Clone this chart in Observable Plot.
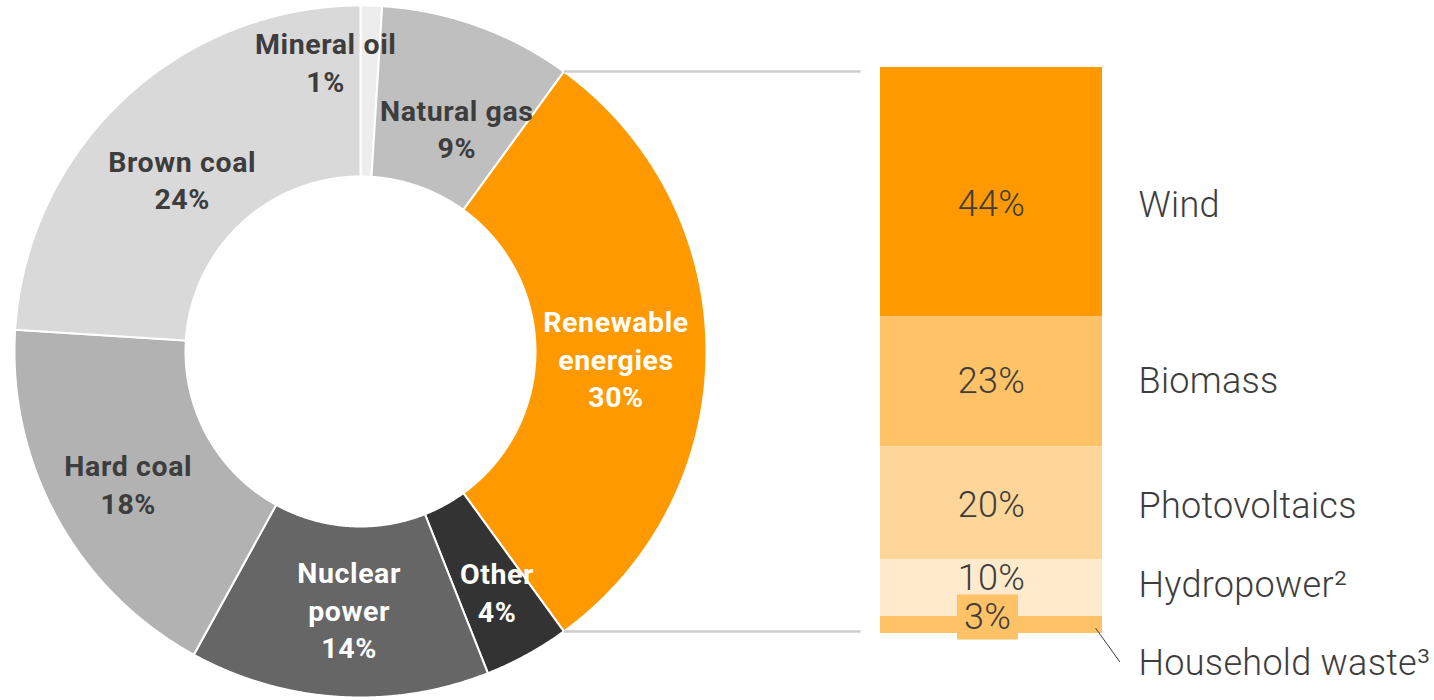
<!DOCTYPE html>
<html>
<head>
<meta charset="utf-8">
<script src="https://cdn.jsdelivr.net/npm/d3@7"></script>
<script src="https://cdn.jsdelivr.net/npm/@observablehq/plot@0.6"></script>
<style>
  html, body { margin: 0; padding: 0; background: #ffffff; }
  #chart { display: flex; width: 1434px; height: 700px; overflow: visible; }
  #chart svg { overflow: visible; }
</style>
</head>
<body>
<div id="chart"></div>
<script>
// ---- Data: gross electricity generation mix (%) ----
const categories = ["Mineral oil", "Natural gas", "Renewable energies", "Other", "Nuclear power", "Hard coal", "Brown coal"];
const shares = [1, 9, 30, 4, 14, 18, 24];
const categoryLabels = ["Mineral oil", "Natural gas", "Renewable\nenergies", "Other", "Nuclear\npower", "Hard coal", "Brown coal"];
const categoryColors = ["#EDEDED", "#BFBFBF", "#FF9900", "#333333", "#666666", "#B2B2B2", "#D9D9D9"];
const lightLabelCategories = ["Renewable energies", "Other", "Nuclear power"];

// ---- Data: breakdown of renewable energies (%) ----
const renewableSources = ["Wind", "Biomass", "Photovoltaics", "Hydropower²", "Household waste³"];
const renewableShares = [44, 23, 20, 10, 3];
const renewableColors = ["#FF9900", "#FFC266", "#FFD699", "#FFEBCC", "#FFC266"];

// ---- Styling / layout (not data) ----
const FONT = "Roboto, 'DejaVu Sans', sans-serif";
const TEXT = "#3d3d3d";
// label nudges (px) relative to the slice's mid-angle anchor
const labelNudge = {
  "Mineral oil": [-43, -30], "Natural gas": [8, 21], "Renewable energies": [-5, 6],
  "Other": [11, 11], "Nuclear power": [5, -3], "Hard coal": [-4, 6], "Brown coal": [0, 17]
};

// ---- Donut geometry (derived from the shares) ----
const cx = 360, cy = 351, R = 346, r0 = 175;
const total = d3.sum(shares);
const ends = Array.from(d3.cumsum(shares));
const slices = categories.map((c, i) => ({
  cat: c,
  share: shares[i],
  label: categoryLabels[i] + "\n" + shares[i] + "%",
  a0: (ends[i] - shares[i]) / total * 2 * Math.PI,
  a1: ends[i] / total * 2 * Math.PI
}));
const px = (r, a) => cx + r * Math.sin(a);
const py = (r, a) => cy - r * Math.cos(a);

const ring = slices.flatMap(s => {
  const n = Math.max(4, Math.ceil((s.a1 - s.a0) / 0.005));
  const pts = [];
  for (let k = 0; k <= n; k++) { const a = s.a0 + (s.a1 - s.a0) * k / n; pts.push({cat: s.cat, x: px(R, a), y: py(R, a)}); }
  for (let k = n; k >= 0; k--) { const a = s.a0 + (s.a1 - s.a0) * k / n; pts.push({cat: s.cat, x: px(r0, a), y: py(r0, a)}); }
  return pts;
});

const labelR = (R + r0) / 2;
const labelRows = slices.map(s => {
  const m = (s.a0 + s.a1) / 2;
  return {...s, x: px(labelR, m), y: py(labelR, m)};
});

const renew = slices.find(s => s.cat === "Renewable energies");
const connectorEnd = 860;
const connectors = [renew.a0, renew.a1].map(a => ({x1: px(R, a), y1: py(R, a), x2: connectorEnd, y2: py(R, a)}));

const labelMarks = labelRows.map(d => Plot.text([d], {
  x: "x", y: "y", text: "label",
  fontSize: 28.5, fontWeight: "bold", lineAnchor: "middle", lineHeight: 1.32,
  fill: lightLabelCategories.includes(d.cat) ? "white" : TEXT,
  dx: labelNudge[d.cat][0], dy: labelNudge[d.cat][1]
}));

const donut = Plot.plot({
  width: 870, height: 700, margin: 0,
  style: {fontFamily: FONT, background: "transparent", letterSpacing: "0.6px"},
  x: {domain: [0, 870], range: [0, 870], axis: null},
  y: {domain: [0, 700], range: [0, 700], axis: null},
  color: {domain: categories, range: categoryColors},
  marks: [
    Plot.line(ring, {x: "x", y: "y", z: "cat", fill: "cat", stroke: "white", strokeWidth: 2, curve: "linear-closed"}),
    Plot.link(connectors, {x1: "x1", y1: "y1", x2: "x2", y2: "y2", stroke: "#CCCCCC", strokeWidth: 2.5}),
    ...labelMarks
  ]
});

// ---- Stacked bar of renewable sources ----
const rEnds = Array.from(d3.cumsum(renewableShares));
const bars = renewableSources.map((name, i) => ({
  name,
  share: renewableShares[i],
  pct: renewableShares[i] + "%",
  color: renewableColors[i],
  y1: rEnds[i] - renewableShares[i],
  y2: rEnds[i],
  mid: rEnds[i] - renewableShares[i] / 2
}));
const byName = n => bars.filter(d => d.name === n);
const pctText = {x: 0.5, y: "mid", text: "pct", fontSize: 36, fontWeight: 300, fill: TEXT};
const nameText = {x: 1, y: "mid", text: "name", fontSize: 36, fontWeight: 300, fill: TEXT, textAnchor: "start", dx: 36};
const boxSymbol = {draw(ctx) { ctx.rect(-30.5, -22.5, 61, 45); }};

const stack = Plot.plot({
  width: 564, height: 700, margin: 0,
  style: {fontFamily: FONT, background: "transparent", letterSpacing: "0.3px"},
  x: {domain: [0, 1], range: [10, 232], axis: null},
  y: {domain: [0, 100], range: [67, 633], axis: null},
  marks: [
    Plot.rectY(bars, {x1: 0, x2: 1, y1: "y1", y2: "y2", fill: "color"}),
    Plot.dot(byName("Household waste³"), {x: 0.5, y: "mid", symbol: boxSymbol, r: 10, fill: "#FFC266", stroke: null, dx: -4, dy: -8}),
    Plot.text(byName("Wind"), {...pctText, dy: 12}),
    Plot.text(byName("Biomass"), {...pctText}),
    Plot.text(byName("Photovoltaics"), {...pctText, dy: 2}),
    Plot.text(byName("Hydropower²"), {...pctText, dy: -10}),
    Plot.text(byName("Household waste³"), {...pctText, dx: -4, dy: -8}),
    Plot.text(byName("Wind"), {...nameText, dy: 13}),
    Plot.text(byName("Biomass"), {...nameText}),
    Plot.text(byName("Photovoltaics"), {...nameText, dy: 3}),
    Plot.text(byName("Hydropower²"), {...nameText, dy: -3}),
    Plot.text(byName("Household waste³"), {...nameText, dy: 38}),
    Plot.link(byName("Household waste³"), {x1: 1, y1: "mid", x2: 1.11, y2: d => d.mid + 6, dx: -7, dy: 3, stroke: TEXT, strokeWidth: 1})
  ]
});

document.getElementById("chart").append(donut, stack);
</script>
</body>
</html>
